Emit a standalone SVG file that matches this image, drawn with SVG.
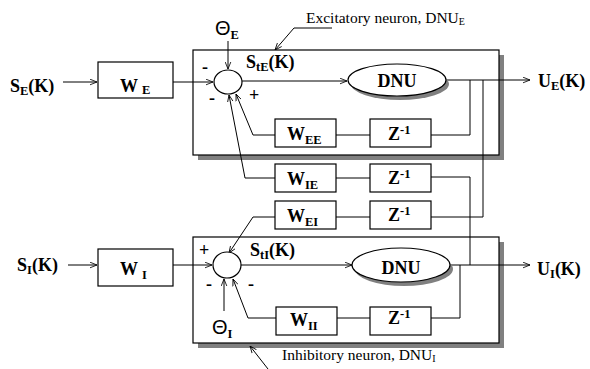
<svg xmlns="http://www.w3.org/2000/svg" width="590" height="369" viewBox="0 0 590 369">
<defs>
<marker id="ar" viewBox="0 0 10 10" refX="10" refY="5" markerWidth="7" markerHeight="7" markerUnits="userSpaceOnUse" orient="auto">
<path d="M0,1 L10,5 L0,9" fill="none" stroke="#000" stroke-width="1.2"/>
</marker>
</defs>
<style>
.b{font-family:"Liberation Serif","Times New Roman",serif;font-weight:bold;font-size:18px;fill:#000}
.s{font-size:12.5px}
.t{font-family:"Liberation Sans",Arial,sans-serif;font-weight:normal;font-size:20px}
.n{font-family:"Liberation Serif","Times New Roman",serif;font-size:15.5px;fill:#000}
.box{fill:#fff;stroke:#000;stroke-width:1.2}
.sh{fill:#808080}
.ln{fill:none;stroke:#000;stroke-width:1}
.ar{marker-end:url(#ar)}
</style>
<rect width="590" height="369" fill="#fff"/>

<g id="neuronE">
<rect class="sh" x="198" y="55" width="306" height="105"/>
<rect class="box" x="193" y="50" width="306" height="105"/>
</g>
<g id="neuronI">
<rect class="sh" x="198" y="242" width="306" height="106"/>
<rect class="box" x="193" y="237" width="306" height="106"/>
</g>

<g id="connectors">
<path class="ln ar" d="M63,82 L97,82"/>
<path class="ln ar" d="M173,82 L213,82"/>
<path class="ln ar" d="M228,41 L228,69"/>
<path class="ln ar" d="M242,81 L347,81"/>
<path class="ln ar" d="M447,80 L530,80"/>
<path class="ln" d="M470,80 L470,135 L431,135"/>
<path class="ln" d="M370,135 L336,135"/>
<path class="ln ar" d="M275,135 L253,135 L236,94"/>
<path class="ln" d="M483,80 L483,217 L431,217"/>
<path class="ln" d="M370,217 L336,217"/>
<path class="ln ar" d="M275,217 L253,217 L229,253"/>
<path class="ln" d="M431,177 L470,177 L470,265"/>
<path class="ln" d="M370,178 L336,178"/>
<path class="ln ar" d="M275,178 L245,178 L229,95"/>
<path class="ln ar" d="M68,265 L97,265"/>
<path class="ln ar" d="M173,265 L212,265"/>
<path class="ln ar" d="M224,311 L224,279"/>
<path class="ln ar" d="M241,265 L352,265"/>
<path class="ln ar" d="M451,265 L530,265"/>
<path class="ln" d="M460,265 L460,318 L431,318"/>
<path class="ln" d="M370,318 L337,318"/>
<path class="ln ar" d="M276,318 L248,318 L233,279"/>
<path class="ln ar" d="M332,28 L294,28 L275,50"/>
<path class="ln ar" d="M268,369 L250,346"/>
</g>

<g id="SE"><text class="b" x="10" y="92">S<tspan class="s" dy="3">E</tspan><tspan dy="-3">(K)</tspan></text></g>
<g id="WE"><rect class="box" x="98" y="62" width="75" height="36"/><text class="b" x="120" y="92">W<tspan class="s" dx="4" dy="2">E</tspan></text></g>
<g id="thetaE"><text class="b t" x="215" y="35">Θ<tspan class="b s" dy="4">E</tspan></text></g>
<g id="sumE">
<ellipse class="box" cx="228" cy="82" rx="14" ry="12"/>
<text class="b" x="202" y="73">-</text>
<text class="b" x="209" y="104">-</text>
<text class="b" x="249" y="101">+</text>
</g>
<g id="StE"><text class="b" x="246" y="68">S<tspan class="s" dy="3">tE</tspan><tspan dy="-3">(K)</tspan></text></g>
<g id="DNUE">
<ellipse class="sh" cx="400" cy="84" rx="49" ry="16"/>
<ellipse class="box" cx="397" cy="80" rx="49" ry="16"/>
<text class="b" x="397" y="87" text-anchor="middle" font-size="19">DNU</text>
</g>
<g id="UE"><text class="b" x="538" y="87">U<tspan class="s" dy="3">E</tspan><tspan dy="-3">(K)</tspan></text></g>
<g id="WEE"><rect class="box" x="275" y="119" width="61" height="28"/><text class="b" x="287" y="140">W<tspan class="s" dy="4">EE</tspan></text></g>
<g id="ZEE"><rect class="box" x="370" y="119" width="61" height="28"/><text class="b" x="388" y="140">Z<tspan class="s" dy="-6">-1</tspan></text></g>
<g id="WIE"><rect class="box" x="275" y="164" width="61" height="28"/><text class="b" x="287" y="185">W<tspan class="s" dy="4">IE</tspan></text></g>
<g id="ZIE"><rect class="box" x="370" y="164" width="61" height="28"/><text class="b" x="388" y="184">Z<tspan class="s" dy="-6">-1</tspan></text></g>
<g id="WEI"><rect class="box" x="275" y="201" width="61" height="28"/><text class="b" x="287" y="222">W<tspan class="s" dy="4">EI</tspan></text></g>
<g id="ZEI"><rect class="box" x="370" y="201" width="61" height="28"/><text class="b" x="388" y="221">Z<tspan class="s" dy="-6">-1</tspan></text></g>

<g id="SI"><text class="b" x="17" y="271">S<tspan class="s" dy="3">I</tspan><tspan dy="-3">(K)</tspan></text></g>
<g id="WI"><rect class="box" x="98" y="249" width="75" height="37"/><text class="b" x="120" y="275">W<tspan class="s" dx="4" dy="4">I</tspan></text></g>
<g id="sumI">
<ellipse class="box" cx="227" cy="265" rx="14" ry="13"/>
<text class="b" x="199" y="256">+</text>
<text class="b" x="206" y="290">-</text>
<text class="b" x="248" y="290">-</text>
</g>
<g id="thetaI"><text class="b t" x="212" y="334">Θ<tspan class="b s" dy="4">I</tspan></text></g>
<g id="StI"><text class="b" x="250" y="256">S<tspan class="s" dy="3">tI</tspan><tspan dy="-3">(K)</tspan></text></g>
<g id="DNUI">
<ellipse class="sh" cx="404" cy="269" rx="49" ry="17"/>
<ellipse class="box" cx="401" cy="265" rx="49" ry="17"/>
<text class="b" x="401" y="274" text-anchor="middle" font-size="19">DNU</text>
</g>
<g id="UI"><text class="b" x="537" y="275">U<tspan class="s" dy="3">I</tspan><tspan dy="-3">(K)</tspan></text></g>
<g id="WII"><rect class="box" x="276" y="307" width="61" height="28"/><text class="b" x="290" y="326">W<tspan class="s" dy="4">II</tspan></text></g>
<g id="ZII"><rect class="box" x="370" y="307" width="61" height="28"/><text class="b" x="388" y="324">Z<tspan class="s" dy="-6">-1</tspan></text></g>

<g id="labelE"><text class="n" x="306" y="23">Excitatory neuron, DNU<tspan font-size="10" dy="2">E</tspan></text></g>
<g id="labelI"><text class="n" x="282" y="360">Inhibitory neuron, DNU<tspan font-size="10" dy="2">I</tspan></text></g>
</svg>
